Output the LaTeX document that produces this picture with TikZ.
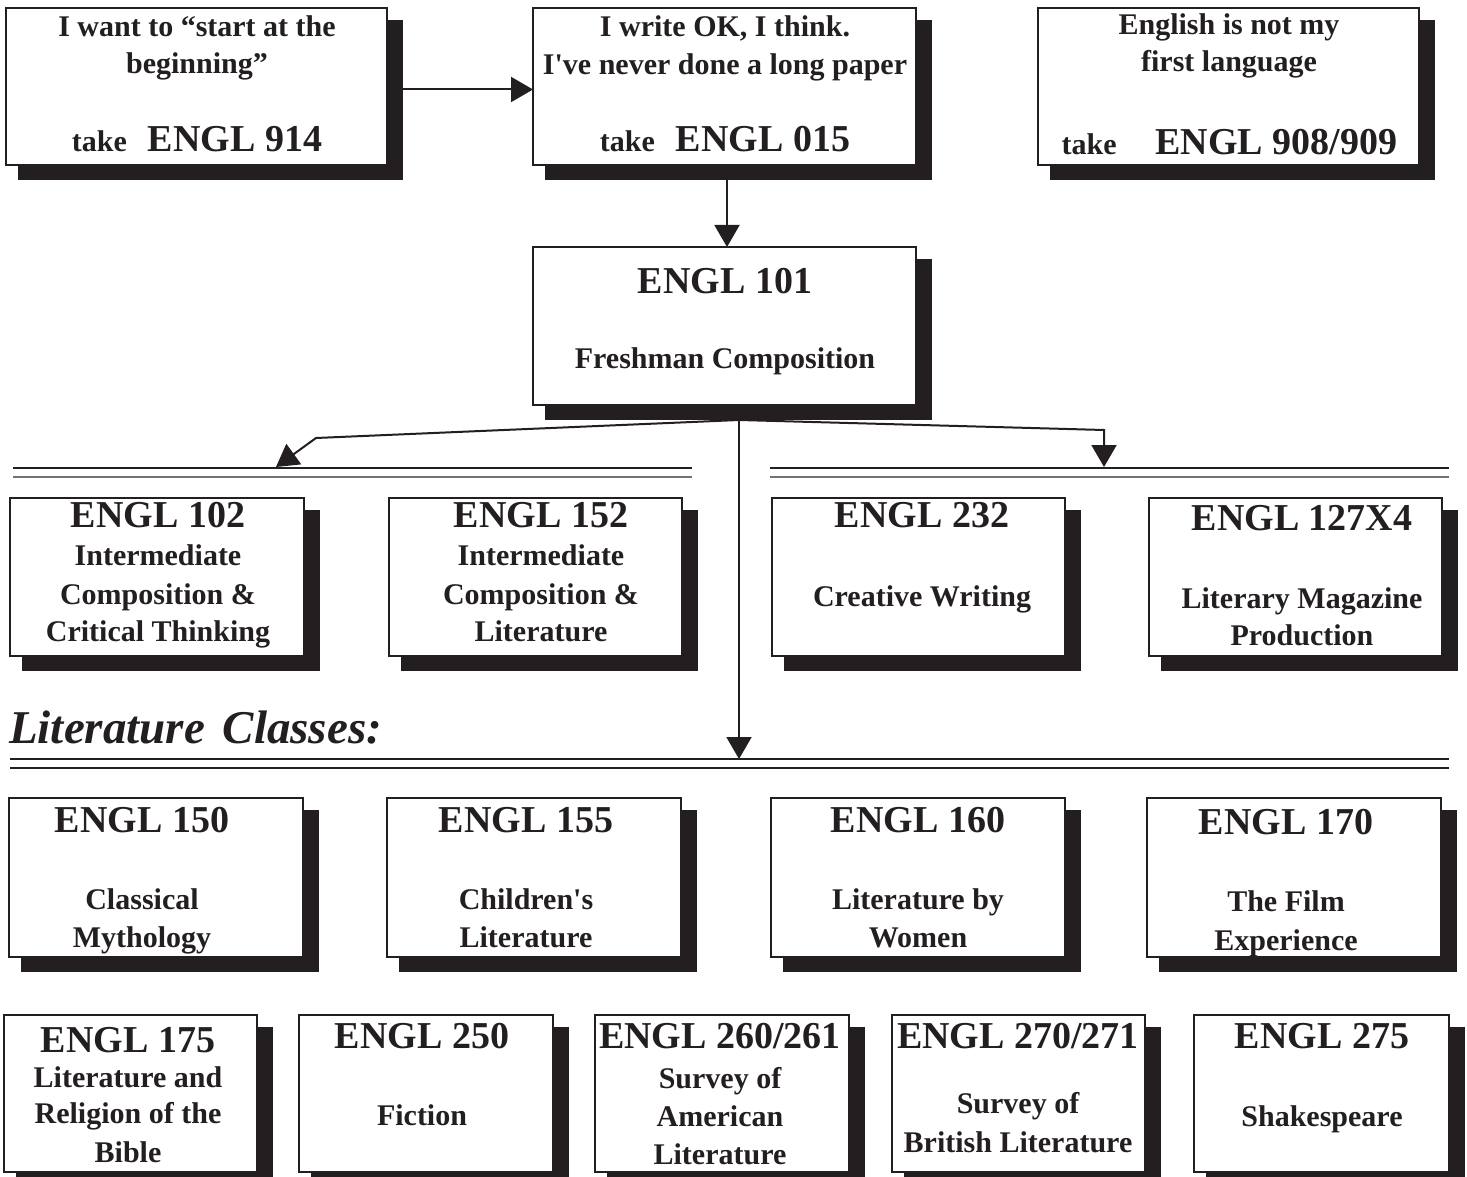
\documentclass[tikz,border=0pt]{standalone}
\usepackage{fontspec}
\setmainfont{Liberation Serif}[Ligatures=TeXOff]
\usetikzlibrary{arrows.meta}
\definecolor{ink}{RGB}{35,31,32}
\definecolor{rulegray}{RGB}{115,115,115}
\pgfdeclarelayer{bg}
\pgfsetlayers{bg,main}
\newcommand\fA{\fontsize{30}{36}\selectfont}
\newcommand\fB{\fontsize{38}{42}\selectfont}
\newcommand\fH{\fontsize{47}{52}\selectfont}
\newcommand\engl[1]{{\fB ENGL #1}}
\newcommand\cbox[5]{%
  \fill[shd] ({#2+12},{#3+12}) rectangle ({#4+16},{#5+15});
  \node[cbx, minimum width={(#4-#2)*1pt}, minimum height={(#5-#3)*1pt}] (#1) at ({(#2+#4)/2},{(#3+#5)/2}) {};}
\newcommand\txl[4]{\node[lbl] (#1) at (#2,#3) {#4};}
\begin{document}
\begin{tikzpicture}[x=1pt,y=-1pt,
  shd/.style={fill=ink},
  cbx/.style={draw=ink, line width=1.6pt, fill=white, inner sep=0pt, outer sep=0pt},
  lbl/.style={text=ink, font=\bfseries\fA, inner sep=0pt, anchor=base},
  conn/.style={draw=ink, line width=2pt},
  arr/.style={conn, -{Triangle[length=22pt,width=25pt]}},
  ruleA/.style={draw=ink, line width=1.3pt},
  ruleB/.style={draw=rulegray, line width=2pt}]
\useasboundingbox (0,0) rectangle (1467,1177);

% ---- boxes ----
\cbox{b914}{6}{8}{387}{165}
\cbox{b015}{533}{8}{916}{165}
\cbox{b908}{1038}{8}{1419}{165}
\cbox{b101}{533}{247}{916}{405}
\cbox{b102}{10}{498}{304}{656}
\cbox{b152}{389}{498}{682}{656}
\cbox{b232}{772}{498}{1065}{656}
\cbox{b127}{1149}{498}{1442}{656}
\cbox{b150}{9}{798}{303}{957}
\cbox{b155}{387}{798}{681}{957}
\cbox{b160}{771}{798}{1065}{957}
\cbox{b170}{1147}{798}{1441}{957}
\cbox{b175}{4}{1015}{257}{1172}
\cbox{b250}{299}{1015}{553}{1172}
\cbox{b260}{595}{1015}{849}{1172}
\cbox{b270}{892}{1015}{1145}{1172}
\cbox{b275}{1194}{1015}{1449}{1172}

% ---- texts ----
\txl{t914a}{197}{37}{I want to “start at the}
\txl{t914b}{197}{74}{beginning”}
\txl{t914c}{197}{152}{take\hspace{21pt}\engl{914}}

\txl{t015a}{725}{37}{I write OK, I think.}
\txl{t015b}{725}{75}{I've never done a long paper}
\txl{t015c}{725}{152}{take\hspace{21pt}\engl{015}}

\txl{t908a}{1229}{35}{English is not my}
\txl{t908b}{1229}{72}{first language}
\txl{t908c}{1229.5}{155}{take\hspace{39pt}\engl{908/909}}

\txl{t101a}{725}{293}{\engl{101}}
\txl{t101b}{725}{368}{Freshman Composition}

\txl{t102a}{158}{527}{\engl{102}}
\txl{t102b}{158}{565}{Intermediate}
\txl{t102c}{158}{604}{Composition \&}
\txl{t102d}{158}{641}{Critical Thinking}

\txl{t152a}{541}{527}{\engl{152}}
\txl{t152b}{541}{565}{Intermediate}
\txl{t152c}{541}{604}{Composition \&}
\txl{t152d}{541}{641}{Literature}

\txl{t232a}{922}{527}{\engl{232}}
\txl{t232b}{922}{606}{Creative Writing}

\txl{t127a}{1302}{530}{\engl{127X4}}
\txl{t127b}{1302}{608}{Literary Magazine}
\txl{t127c}{1302}{645}{Production}

\node[lbl, font=\bfseries\itshape\fH, anchor=base west] (lith) at (9,743) {Literature\hspace{6pt} Classes:};

\txl{t150a}{142}{832}{\engl{150}}
\txl{t150b}{142}{909}{Classical}
\txl{t150c}{142}{947}{Mythology}

\txl{t155a}{526}{832}{\engl{155}}
\txl{t155b}{526}{909}{Children's}
\txl{t155c}{526}{947}{Literature}

\txl{t160a}{918}{832}{\engl{160}}
\txl{t160b}{918}{909}{Literature by}
\txl{t160c}{918}{947}{Women}

\txl{t170a}{1286}{834}{\engl{170}}
\txl{t170b}{1286}{911}{The Film}
\txl{t170c}{1286}{950}{Experience}

\txl{t175a}{128}{1052}{\engl{175}}
\txl{t175b}{128}{1087}{Literature and}
\txl{t175c}{128}{1123}{Religion of the}
\txl{t175d}{128}{1162}{Bible}

\txl{t250a}{422}{1048}{\engl{250}}
\txl{t250b}{422}{1125}{Fiction}

\txl{t260a}{720}{1048}{\engl{260/261}}
\txl{t260b}{720}{1088}{Survey of}
\txl{t260c}{720}{1126}{American}
\txl{t260d}{720}{1164}{Literature}

\txl{t270a}{1018}{1048}{\engl{270/271}}
\txl{t270b}{1018}{1113}{Survey of}
\txl{t270c}{1018}{1152}{British Literature}

\txl{t275a}{1322}{1048}{\engl{275}}
\txl{t275b}{1322}{1126}{Shakespeare}

% ---- rules ----
\draw[ruleA] (13,468) -- (692,468);
\draw[ruleB] (13,477) -- (692,477);
\draw[ruleA] (770,468) -- (1449,468);
\draw[ruleB] (770,477) -- (1449,477);
\draw[ruleA] (10,759) -- (1449,759);
\draw[ruleA] (10,768) -- (1449,768);

% ---- connectors ----
\coordinate (hub) at ([xshift=14.5pt,yshift=-15pt]b101.south);
\coordinate (lt) at (276,467);
\coordinate (rt) at (1104,467);
\coordinate (ct) at (739,759);
\begin{pgfonlayer}{bg}
\draw[arr] ([yshift=-3pt]b914.east) -- ([yshift=-3pt]b015.west);
\draw[arr] ([xshift=2.5pt]b015.south) -- ([xshift=2.5pt]b101.north);
\draw[arr] (hub) -- (316,438) -- (lt);
\draw[arr] (hub) -- (1104,430) -- (rt);
\draw[arr] (hub) -- (ct);
\end{pgfonlayer}
\end{tikzpicture}
\end{document}
